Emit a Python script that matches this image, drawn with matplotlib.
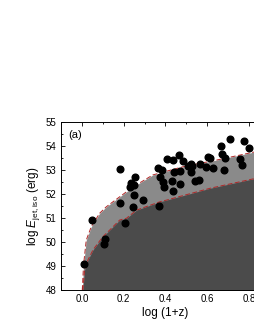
import matplotlib
matplotlib.use("Agg")
import matplotlib.pyplot as plt
from matplotlib.ticker import MultipleLocator

plt.rcParams["font.family"] = ["Liberation Sans", "DejaVu Sans"]
plt.rcParams["mathtext.fontset"] = "custom"
plt.rcParams["mathtext.rm"] = "Liberation Sans"
plt.rcParams["mathtext.it"] = "Liberation Sans:italic"

# observed bursts: log(1+z), log E_jet,iso
log_1pz = [0.010, 0.047, 0.110, 0.104, 0.182, 0.208, 0.243, 0.291, 0.184, 0.237,
           0.256, 0.232, 0.249, 0.248, 0.368, 0.362, 0.381, 0.405, 0.434, 0.464,
           0.485, 0.440, 0.469, 0.374, 0.386, 0.392, 0.430, 0.469, 0.438, 0.521,
           0.529, 0.524, 0.567, 0.593, 0.627, 0.612, 0.603, 0.669, 0.664, 0.684,
           0.681, 0.709, 0.542, 0.561, 0.756, 0.765, 0.777, 0.798, 0.509]
log_e = [49.08, 50.92, 50.11, 49.92, 51.61, 50.80, 51.46, 51.75, 53.03, 52.47,
         52.72, 52.28, 52.38, 51.96, 51.50, 53.10, 53.00, 53.45, 53.42, 53.61,
         53.39, 52.93, 52.97, 52.72, 52.49, 52.28, 52.54, 52.42, 52.13, 53.25,
         53.17, 52.92, 53.26, 53.14, 53.10, 53.50, 53.55, 53.67, 54.00, 53.51,
         53.02, 54.28, 52.55, 52.60, 53.45, 53.22, 54.22, 53.94, 53.17]

# upper (light) and lower (dark) threshold curves
upper_x = [0.002, 0.008, 0.021, 0.045, 0.085, 0.117, 0.149, 0.245, 0.34, 0.484, 0.645, 0.828, 0.95]
upper_y = [48.0, 49.04, 50.08, 50.64, 51.2, 51.47, 51.68, 52.3, 52.8, 53.14, 53.42, 53.76, 53.98]
lower_x = [0.005, 0.013, 0.029, 0.053, 0.10, 0.133, 0.181, 0.213, 0.261, 0.373, 0.405, 0.612, 0.828, 0.95]
lower_y = [48.0, 48.83, 49.25, 49.67, 50.22, 50.5, 50.92, 50.99, 51.33, 51.68, 51.75, 52.24, 52.65, 52.87]

fig = plt.figure(figsize=(2.55, 3.30), dpi=100)
ax = fig.add_axes([0.239, 0.121, 0.82, 0.509])

ax.fill_between(upper_x, 48, upper_y, color="#8a8a8a", lw=0, zorder=1)
ax.fill_between(lower_x, 48, lower_y, color="#4b4b4b", lw=0, zorder=2)
ax.plot(upper_x, upper_y, ls="--", color="#b02828", lw=0.7, dashes=(5, 2.5), zorder=3)
ax.plot(lower_x, lower_y, ls="--", color="#b02828", lw=0.7, dashes=(5, 2.5), zorder=3)
ax.plot(log_1pz, log_e, "o", color="black", ms=4.8, zorder=4)

ax.set_xlim(-0.1, 0.9)
ax.set_ylim(48, 55)
ax.xaxis.set_major_locator(MultipleLocator(0.2))
ax.xaxis.set_minor_locator(MultipleLocator(0.1))
ax.yaxis.set_major_locator(MultipleLocator(1))
ax.yaxis.set_minor_locator(MultipleLocator(0.5))
ax.xaxis.set_major_formatter(plt.FuncFormatter(lambda v, p: f"{v:.1f}"))
ax.tick_params(which="both", direction="in", top=True, right=True, labelsize=7, pad=3, width=0.6)
ax.tick_params(which="major", length=3.2)
ax.tick_params(which="minor", length=1.6)
for s in ax.spines.values():
    s.set_linewidth(0.7)

ax.set_xlabel("log (1+z)", fontsize=8.5, labelpad=2)
ax.set_ylabel(r"log $\mathit{E}_{\rm jet,iso}$ (erg)", fontsize=8.5, labelpad=3)
ax.text(0.034, 0.95, "(a)", transform=ax.transAxes, fontsize=8, va="top")

fig.savefig("out.png", dpi=100)
